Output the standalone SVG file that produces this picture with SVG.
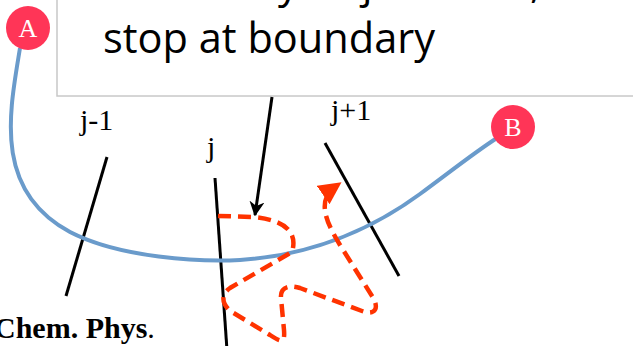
<svg xmlns="http://www.w3.org/2000/svg" width="633" height="346" viewBox="0 0 633 346">
<style>
.lbl{font-family:"Liberation Serif","Times New Roman",serif;font-size:30px;fill:#000}
.mile{stroke:#000;stroke-width:3;stroke-linecap:butt;fill:none}
.circ{fill:#FF3557}
.cl{font-family:"Liberation Serif",serif;font-size:26px;fill:#fff;text-anchor:middle}
.call{font-family:"Open Sans","Noto Sans",sans-serif;font-size:42px;fill:#000}
</style>
<defs>
<marker id="blk" viewBox="0 0 10 10" refX="9" refY="5" markerWidth="5" markerHeight="5" orient="auto" markerUnits="strokeWidth">
<path d="M0,0 L10,5 L0,10 L3,5 Z" fill="#000"/>
</marker>
<marker id="red" viewBox="0 0 10 10" refX="7" refY="5" markerWidth="5" markerHeight="5" orient="auto" markerUnits="strokeWidth">
<path d="M0,0 L10,5 L0,10 Z" fill="#FF3300"/>
</marker>
</defs>

<g id="milestone-j-1">
<line class="mile" x1="107" y1="157" x2="66" y2="296"/>
<text class="lbl" x="80" y="130">j-1</text>
</g>
<g id="milestone-j">
<line class="mile" x1="215" y1="178" x2="227" y2="350"/>
<text class="lbl" x="207" y="157">j</text>
</g>
<g id="milestone-j+1">
<line class="mile" x1="325" y1="143" x2="399" y2="276"/>
<text class="lbl" x="331" y="120">j+1</text>
</g>

<g id="connectors">
<path id="path-AB" d="M20,48 C10,110 -8,190 70,232 C120,258 200,262 240,260 C300,256 360,238 420,194 C450,172 475,152 497,138" fill="none" stroke="#6A9BCB" stroke-width="4"/>
<path id="trajectory" d="M218,216 L253,217 C285,220 298,232 292,252 L230,288 C220,295 222,305 232,312 L270,335 C282,343 285,343 284,330 L281,298 C280,288 288,284 300,288 L362,311 C375,316 380,308 372,296 L340,245 C326,222 316,200 336,186" fill="none" stroke="#FF3300" stroke-width="4.5" stroke-dasharray="13,7" marker-end="url(#red)"/>
</g>

<g id="node-A">
<circle class="circ" cx="28" cy="28" r="22"/>
<text class="cl" x="28" y="37">A</text>
</g>
<g id="node-B">
<circle class="circ" cx="513" cy="127" r="22"/>
<text class="cl" x="513" y="136">B</text>
</g>

<g id="callout">
<rect x="57" y="-5" width="600" height="101" fill="#fff" stroke="#C8C8C8" stroke-width="1.5"/>
<text class="call" y="-2"><tspan x="278">y</tspan><tspan x="362">j</tspan><tspan x="530">,</tspan></text>
<text class="call" x="103" y="53" textLength="332" lengthAdjust="spacingAndGlyphs">stop at boundary</text>
<line x1="272" y1="97" x2="255" y2="215" stroke="#000" stroke-width="3" marker-end="url(#blk)"/>
</g>

<g id="citation">
<text x="-6" y="338" font-family="Liberation Serif, serif" font-size="30" font-weight="bold">Chem. Phys<tspan font-weight="normal">.</tspan></text>
</g>
</svg>
